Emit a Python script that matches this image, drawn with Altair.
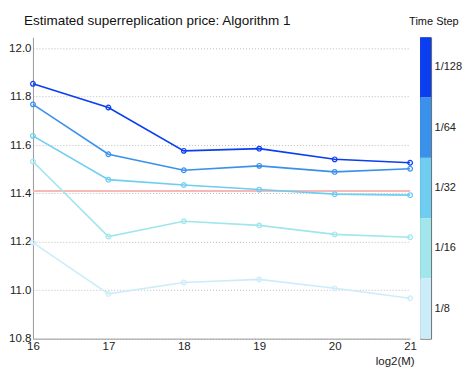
import altair as alt
import pandas as pd

# ---- data ----
log2M = [16, 17, 18, 19, 20, 21]
steps = ["1/128", "1/64", "1/32", "1/16", "1/8"]
p_128 = [11.853, 11.755, 11.576, 11.585, 11.541, 11.527]
p_64 = [11.768, 11.562, 11.496, 11.514, 11.489, 11.502]
p_32 = [11.638, 11.457, 11.435, 11.416, 11.397, 11.393]
p_16 = [11.532, 11.222, 11.285, 11.268, 11.231, 11.219]
p_8 = [11.197, 10.985, 11.032, 11.045, 11.008, 10.967]
reference_price = [11.41]
colors = ["#0a3ef0", "#3a91eb", "#6ecdf0", "#a0e6eb", "#cdecfa"]
y_ticks = [10.8, 11.0, 11.2, 11.4, 11.6, 11.8, 12.0]

series = {"1/128": p_128, "1/64": p_64, "1/32": p_32, "1/16": p_16, "1/8": p_8}
rows = []
for rank, s in enumerate(steps):
    for m, v in zip(log2M, series[s]):
        rows.append({"M": m, "price": v, "step": s, "rank": rank})
df = pd.DataFrame(rows)

FONT = "Liberation Sans"
W, H = 378, 302
color_scale = alt.Scale(domain=steps, range=colors)

x_enc = alt.X(
    "M:Q",
    scale=alt.Scale(domain=[16, 21], nice=False, zero=False),
    axis=alt.Axis(values=log2M, format="d", title="log2(M)", titleAnchor="end",
                  titleAlign="right", titleX=W + 4,
                  titleFontWeight="normal", titleFontSize=11.5, titlePadding=3,
                  labelFontSize=11.5, labelPadding=2, labelFlush=False,
                  ticks=False, grid=False,
                  domainColor="#999", labelColor="#222", titleColor="#222"),
)
y_enc = alt.Y(
    "price:Q",
    scale=alt.Scale(domain=[10.8, 12.045], nice=False, zero=False),
    axis=alt.Axis(values=y_ticks, format=".1f", title=None, ticks=False,
                  labelFontSize=11.5, labelPadding=2, labelFlush=False, grid=True,
                  gridDash=[1, 2], gridColor="#bbb", domainColor="#999",
                  labelColor="#222"),
)

rule = alt.Chart(pd.DataFrame({"price": reference_price})).mark_rule(
    color="#f8b8b8", strokeWidth=2
).encode(y=alt.Y("price:Q"))

base = alt.Chart(df).encode(
    x=x_enc, y=y_enc,
    color=alt.Color("step:N", scale=color_scale, legend=None),
    order=alt.Order("rank:Q", sort="descending"),
)
lines = base.mark_line(strokeWidth=1.6)
points = base.mark_point(shape="circle", filled=False, size=22, strokeWidth=1.2, opacity=1)

main = alt.layer(rule, lines, points).properties(
    width=W, height=H,
    title=alt.TitleParams("Estimated superreplication price: Algorithm 1",
                          anchor="start", frame="group", fontSize=13.5,
                          fontWeight="normal", offset=10, dx=-9, color="#111"),
)

legend_df = pd.DataFrame({"step": steps})
legend = alt.Chart(legend_df).mark_rect().encode(
    y=alt.Y("step:N", sort=steps,
            scale=alt.Scale(paddingInner=0, paddingOuter=0),
            axis=alt.Axis(orient="right", ticks=False, domain=False, title=None,
                          labelFontSize=11, labelPadding=3, labelColor="#222")),
    color=alt.Color("step:N", scale=color_scale, legend=None),
).properties(
    width=11, height=H,
    title=alt.TitleParams("Time Step", anchor="start", frame="group", dx=-11,
                          fontSize=11, fontWeight="normal", offset=10, color="#111"),
    view=alt.ViewBackground(stroke="#666", strokeWidth=1),
)

chart = alt.hconcat(main, legend, spacing=10, bounds="flush").properties(
    padding={"left": 0, "top": 5, "right": 0, "bottom": 0}
).resolve_scale(y="independent").configure(
    font=FONT
).configure_view(stroke=None)

chart.save("out.html", embed_options={"renderer": "svg", "actions": False})
